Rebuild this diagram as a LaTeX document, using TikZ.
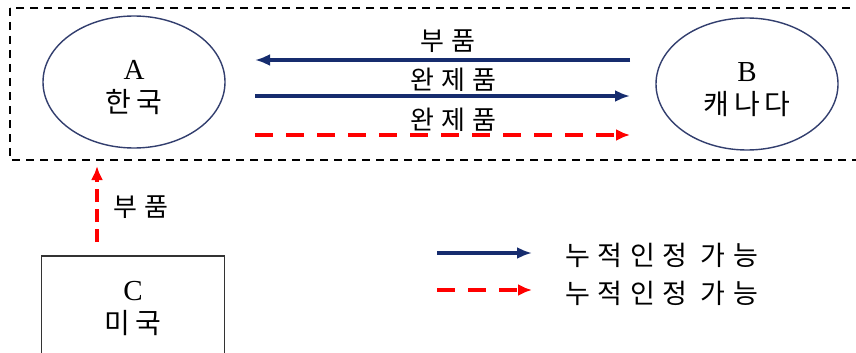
\documentclass[tikz,border=0pt]{standalone}
\usepackage{fontspec}
\setmainfont{Liberation Serif}
\newfontfamily\kr[LetterSpace=18]{Noto Sans CJK KR}
\newfontfamily\krw[LetterSpace=28]{Noto Sans CJK KR}
\usetikzlibrary{arrows.meta,shapes.geometric}
\definecolor{navy}{RGB}{22,44,110}
\definecolor{circ}{RGB}{50,62,110}
\definecolor{redd}{RGB}{255,0,0}
\tikzset{
  country/.style={draw=circ,line width=1.4pt,ellipse,minimum width=182pt,minimum height=132pt,inner sep=0pt},
  ctext/.style={align=center,font=\fontsize{29}{33}\selectfont,inner sep=0pt},
  solidarrow/.style={draw=navy,line width=3.2pt,-{Latex[length=15pt,width=12pt]}},
  dasharrow/.style={draw=redd,line width=3.6pt,dash pattern=on 18pt off 13pt,-{Latex[length=14pt,width=12pt]}},
  lbl/.style={font=\krw\fontsize{26}{28}\selectfont,inner sep=0pt,anchor=west},
  leglbl/.style={font=\krw\fontsize{27}{28}\selectfont,inner sep=0pt,anchor=west},
}
\begin{document}
\begin{tikzpicture}[x=1pt,y=-1pt]
\clip (0,0) rectangle (856,353);
\fill[white] (0,0) rectangle (856,353);
\draw[black,line width=2pt,dash pattern=on 8pt off 6pt] (10,8) rectangle (880,160);
\node[country] (A) at (134,82) {};
\node[ctext] (At) at ([yshift=-6pt]A.center) {A\\{\kr\fontsize{28}{33}\selectfont 한국}};
\node[country] (B) at (747,84) {};
\node[ctext] (Bt) at ([yshift=-6pt]B.center) {B\\{\kr\fontsize{28}{33}\selectfont 캐나다}};
\node[draw=black!80,line width=1.4pt,minimum width=183pt,minimum height=100pt,inner sep=0pt] (C) at (133,306) {};
\node[ctext] (Ct) at ([yshift=-3pt]C.center) {C\\{\kr\fontsize{28}{33}\selectfont 미국}};
% arrow end points
\coordinate (r1) at (630,60); \coordinate (l1) at (255,60);
\coordinate (l2) at (255,96); \coordinate (r2) at (630,96);
\coordinate (l3) at (255,135); \coordinate (r3) at (630,135);
\coordinate (v1) at (97,242); \coordinate (v2) at (97,166);
\draw[solidarrow] (r1) -- (l1);
\draw[solidarrow] (l2) -- (r2);
\draw[dasharrow] (l3) -- (r3);
\draw[dasharrow,line width=4.2pt,dash pattern=on 13pt off 7pt] (v1) -- (v2);
\node[lbl] (t1) at (420,41) {부품};
\node[lbl] (t2) at (410,80) {완제품};
\node[lbl] (t3) at (410,120) {완제품};
\node[lbl] (t4) at (113,207) {부품};
% legend
\coordinate (g1a) at (437,253); \coordinate (g1b) at (532,253);
\coordinate (g2a) at (437,290); \coordinate (g2b) at (532,290);
\draw[solidarrow] (g1a) -- (g1b);
\draw[dasharrow] (g2a) -- (g2b);
\node[leglbl] (e1) at (565,255) {누적인정 가능};
\node[leglbl] (e2) at (565,293) {누적인정 가능};
\end{tikzpicture}
\end{document}
